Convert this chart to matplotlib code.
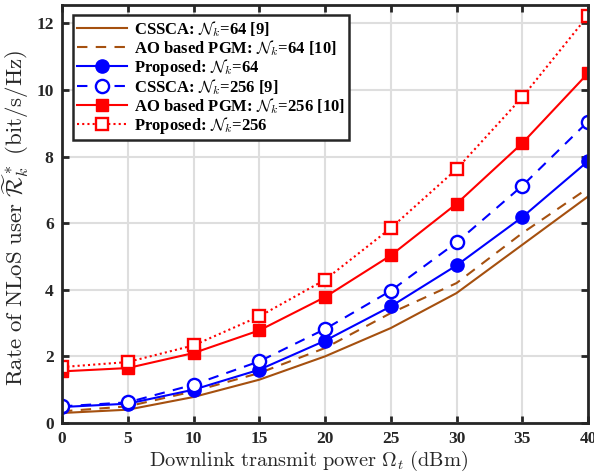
import matplotlib
matplotlib.use("Agg")
import matplotlib.pyplot as plt

plt.rcParams['font.family'] = ['Liberation Serif', 'DejaVu Serif']
plt.rcParams['mathtext.fontset'] = 'cm'

power = [0, 5, 10, 15, 20, 25, 30, 35, 40]
cssca_64 = [0.30, 0.40, 0.78, 1.30, 2.00, 2.85, 3.90, 5.35, 6.80]
ao_64 = [0.35, 0.50, 0.95, 1.50, 2.25, 3.30, 4.20, 5.70, 7.05]
prop_64 = [0.48, 0.58, 1.00, 1.60, 2.47, 3.50, 4.73, 6.18, 7.86]
cssca_256 = [0.50, 0.62, 1.15, 1.85, 2.82, 3.97, 5.42, 7.12, 9.05]
ao_256 = [1.55, 1.65, 2.10, 2.78, 3.78, 5.03, 6.58, 8.40, 10.50]
prop_256 = [1.68, 1.83, 2.33, 3.20, 4.30, 5.85, 7.62, 9.78, 12.23]

labels = [
    r'CSSCA: $\mathcal{N}_k$=64 [9]',
    r'AO based PGM: $\mathcal{N}_k$=64 [10]',
    r'Proposed: $\mathcal{N}_k$=64',
    r'CSSCA: $\mathcal{N}_k$=256 [9]',
    r'AO based PGM: $\mathcal{N}_k$=256 [10]',
    r'Proposed: $\mathcal{N}_k$=256',
]

brown = '#A5500F'
fig = plt.figure(figsize=(5.94, 4.75), dpi=100)
ax = fig.add_axes([62/594, 1 - 423/475, (588-62)/594, (423-5)/475])

lw = 1.5
ax.plot(power, cssca_64, color=brown, lw=lw, ls='-', label=labels[0])
ax.plot(power, ao_64, color=brown, lw=lw, ls=(0, (5, 4)), label=labels[1])
ax.plot(power, prop_64, color='#0000FF', lw=lw, ls='-', marker='o', ms=9.5,
        mfc='#0000FF', mec='#0000FF', label=labels[2])
ax.plot(power, cssca_256, color='#0000FF', lw=lw, ls=(0, (5, 4)), marker='o', ms=9.5,
        mfc='white', mec='#0000FF', mew=1.7, label=labels[3])
ax.plot(power, ao_256, color='#FF0000', lw=lw, ls='-', marker='s', ms=8,
        mfc='#FF0000', mec='#FF0000', label=labels[4])
ax.plot(power, prop_256, color='#FF0000', lw=lw, ls=(0, (1, 1.5)), marker='s', ms=8,
        mfc='white', mec='#FF0000', mew=1.7, label=labels[5])

ax.set_xlim(0, 40)
ax.set_ylim(0, 12.55)
ax.set_xticks(range(0, 41, 5))
ax.set_yticks(range(0, 13, 2))
ax.grid(True, color='#dedede', lw=1.5)
ax.set_axisbelow(True)
for s in ax.spines.values():
    s.set_linewidth(2.0)
    s.set_color('#262626')
ax.tick_params(direction='in', length=5, width=2, color='#262626', top=True, right=True,
               labelsize=12.5, pad=6, labelcolor='#262626')
for t in ax.get_xticklabels() + ax.get_yticklabels():
    t.set_fontweight('bold')

ax.set_xlabel(r'$\mathrm{Downlink\ transmit\ power}\ \Omega_t\ \mathrm{(dBm)}$',
              fontsize=14.7, color='#262626')
ax.xaxis.set_label_coords(0.468, -0.062)
ax.set_ylabel(r'$\mathrm{Rate\ of\ NLoS\ user}\ \widetilde{\mathcal{R}}_k^*\ \mathrm{(bit/s/Hz)}$',
              fontsize=16.5, color='#262626')
ax.yaxis.set_label_coords(-0.058, 0.49)

leg = ax.legend(loc='upper left', bbox_to_anchor=(0.015, 0.985), fancybox=False,
                edgecolor='#262626', framealpha=1, prop={'weight': 'bold', 'size': 12},
                handlelength=3.0, labelspacing=-0.05, borderpad=0.25, handletextpad=0.4,
                borderaxespad=0.2)
leg.get_frame().set_linewidth(1.8)

fig.savefig('out.png', dpi=100)
